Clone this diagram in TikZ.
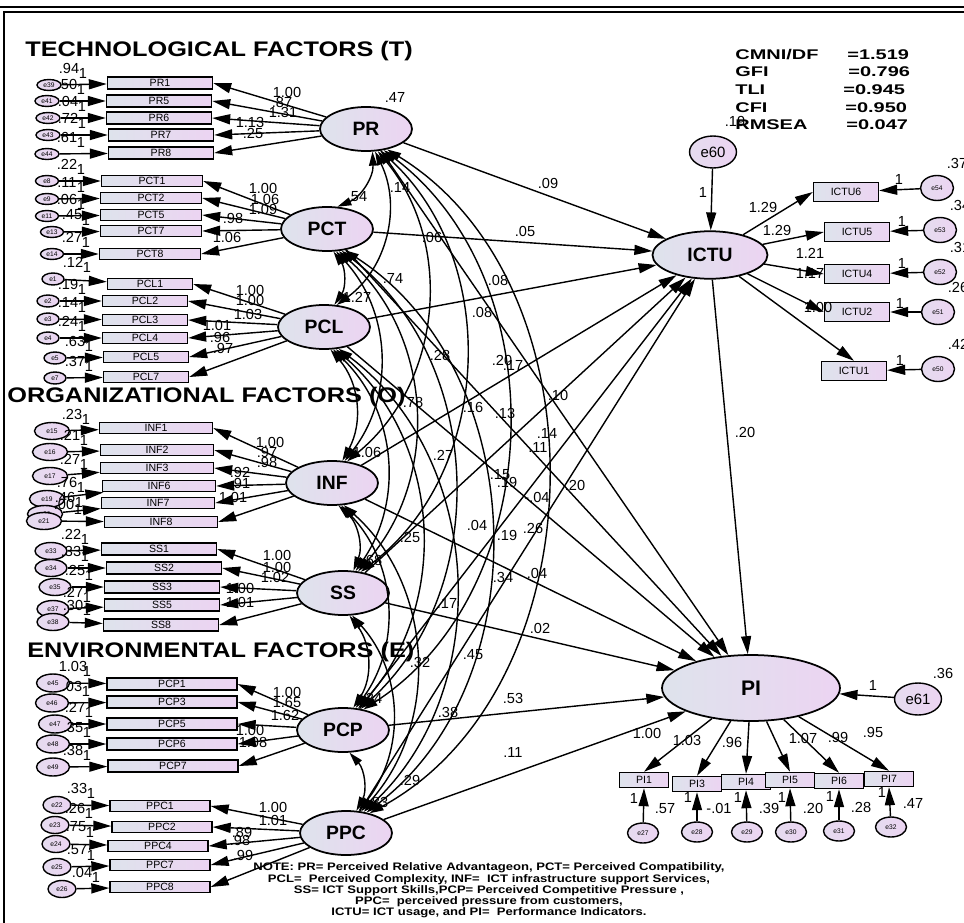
\documentclass[tikz,border=0pt]{standalone}
\usepackage{fontspec}
\setmainfont{Liberation Sans}
\usetikzlibrary{arrows.meta,shapes.geometric}

\definecolor{shadeL}{RGB}{222,227,236}
\definecolor{shadeR}{RGB}{236,212,242}

\newcommand{\stretchtext}[2]{\scalebox{#1}[1]{#2}}

\tikzset{
  lat/.style={ellipse, draw, line width=1pt, left color=shadeL, right color=shadeR,
    minimum width=1.84cm, minimum height=0.88cm, inner sep=0pt, font=\fontsize{11}{12}\selectfont\bfseries},
  ind/.style={rectangle, draw, line width=0.8pt, left color=shadeL, right color=shadeR,
    inner sep=0pt, font=\fontsize{6}{7}\selectfont},
  err/.style={ellipse, draw, line width=0.8pt, left color=shadeL!50!shadeR, right color=shadeR,
    inner sep=0pt, font=\fontsize{3.8}{4}\selectfont},
  num/.style={inner sep=0pt, font=\fontsize{8.3}{9}\selectfont},
  reg/.style={-{Triangle[length=0.36cm,width=0.2cm]}, line width=0.8pt},
  cov/.style={{Triangle[length=0.28cm,width=0.16cm]}-{Triangle[length=0.28cm,width=0.16cm]}, line width=0.8pt},
  ttl/.style={inner sep=0pt, anchor=west, font=\fontsize{12}{13}\selectfont\bfseries},
  fitstat/.style={inner sep=0pt, anchor=west, font=\fontsize{8}{9}\selectfont\bfseries},
}

\begin{document}
\begin{tikzpicture}[x=0.02cm, y=-0.02cm]
\useasboundingbox (0,0) rectangle (964,923);

% frame
\draw[line width=1.4pt] (0,7) -- (964,7);
\draw[line width=1pt] (4,923) -- (4,12) -- (964,12);

% titles
\node[ttl] (techT) at (25,51) {\stretchtext{1.2}{TECHNOLOGICAL FACTORS (T)}};
\node[ttl] (orgT) at (7,397) {\stretchtext{1.2}{ORGANIZATIONAL FACTORS (O)}};
\node[ttl] (envT) at (27,652) {\stretchtext{1.2}{ENVIRONMENTAL FACTORS (E)}};

% fit indices
\node[fitstat] (cmniL) at (735,55) {\stretchtext{1.42}{CMNI/DF}};
\node[fitstat] (cmniV) at (847,55) {\stretchtext{1.42}{=1.519}};
\node[fitstat] (gfiL) at (735,72) {\stretchtext{1.42}{GFI}};
\node[fitstat] (gfiV) at (848,72) {\stretchtext{1.42}{=0.796}};
\node[fitstat] (tliL) at (735,90) {\stretchtext{1.42}{TLI}};
\node[fitstat] (tliV) at (843,90) {\stretchtext{1.42}{=0.945}};
\node[fitstat] (cfiL) at (735,108) {\stretchtext{1.42}{CFI}};
\node[fitstat] (cfiV) at (845,108) {\stretchtext{1.42}{=0.950}};
\node[fitstat] (rmsL) at (735,125) {\stretchtext{1.42}{RMSEA}};
\node[fitstat] (rmsV) at (846,125) {\stretchtext{1.42}{=0.047}};

% latent variables
\node[lat] (PR) at (366,129) {PR};
\node[lat] (PCT) at (327,229) {PCT};
\node[lat] (PCL) at (324,327) {PCL};
\node[lat] (INF) at (332,483) {INF};
\node[lat] (SS) at (343,593) {SS};
\node[lat] (PCP) at (343,730) {PCP};
\node[lat] (PPC) at (346,833) {PPC};
\node[lat, minimum width=2.3cm, minimum height=0.95cm] (ICTU) at (710,255) {ICTU};
\node[lat, minimum width=3.56cm, minimum height=1.32cm, font=\fontsize{12}{13}\selectfont\bfseries] (PI) at (751,688) {PI};

\node[num] (vPR) at (395,97) {.47};
\node[num] (vPCT) at (357,197) {.54};
\node[num] (vPCL) at (357,297) {1.27};
\node[num] (vINF) at (367,452) {1.06};
\node[num] (vSS) at (372,560) {.68};
\node[num] (vPCP) at (372,698) {.24};
\node[num] (vPPC) at (378,802) {.83};

% PR items
\foreach \n/\bx/\by/\e/\ex/\ey/\ld/\lx/\ly/\va in {PR1/160/83/e39/49/85/1.00/287/92/.94, PR5/159/101/e41/47/101/.87/282/102/.50,
  PR6/159/118/e42/48/118/1.31/283/112/.04, PR7/161/135/e43/48/135/1.13/250/122/.72, PR8/161/153/e44/47/154/.25/253/133/.61}{
  \node[ind, minimum width=2.1cm, minimum height=0.24cm] (\n) at (\bx,\by) {\n};
  \node[err, minimum width=0.48cm, minimum height=0.22cm] (\e) at (\ex,\ey) {\e};
  \draw[reg] (\e) -- (\n);
  \draw[reg] (PR) -- (\n.east);
  \node[num] (ld\n) at (\lx,\ly) {\ld};
  \node[num] (v\e) at (\ex+20,\ey-17) {\va};
  \node[num] (one\e) at (\ex+34,\ey-12) {1};
}

% PCT items
\foreach \n/\bx/\by/\e/\ex/\ey/\ld/\lx/\ly/\va in {PCT1/152/181/e8/47/181/1.00/263/188/.22, PCT2/151/198/e9/47/199/1.06/265/199/.11,
  PCT5/151/215/e11/47/216/1.09/263/209/.06, PCT7/151/231/e13/52/232/.98/233/218/.45, PCT8/150/254/e14/52/254/1.06/227/237/.27}{
  \node[ind, minimum width=2.02cm, minimum height=0.23cm] (\n) at (\bx,\by) {\n};
  \node[err, minimum width=0.46cm, minimum height=0.22cm] (\e) at (\ex,\ey) {\e};
  \draw[reg] (\e) -- (\n);
  \draw[reg] (PCT) -- (\n.east);
  \node[num] (ld\n) at (\lx,\ly) {\ld};
  \node[num] (v\e) at (\ex+20,\ey-17) {\va};
  \node[num] (one\e) at (\ex+34,\ey-12) {1};
}

% PCL items
\foreach \n/\bx/\by/\e/\ex/\ey/\ld/\lx/\ly/\va in {PCL1/150/284/e1/53/279/1.00/250/290/.12, PCL2/145/301/e2/48/301/1.00/250/300/.19,
  PCL3/145/320/e3/48/319/1.03/248/314/.14, PCL4/145/338/e4/48/338/1.01/217/325/.24, PCL5/146/357/e5/55/358/.96/220/337/.63,
  PCL7/146/377/e7/55/378/.97/223/348/.37}{
  \node[ind, minimum width=1.7cm, minimum height=0.23cm] (\n) at (\bx,\by) {\n};
  \node[err, minimum width=0.44cm, minimum height=0.24cm] (\e) at (\ex,\ey) {\e};
  \draw[reg] (\e) -- (\n);
  \draw[reg] (PCL) -- (\n.east);
  \node[num] (ld\n) at (\lx,\ly) {\ld};
  \node[num] (v\e) at (\ex+20,\ey-17) {\va};
  \node[num] (one\e) at (\ex+34,\ey-12) {1};
}

% INF items
\foreach \n/\bx/\by/\e/\ex/\ey/\ld/\lx/\ly/\va in {INF1/156/428/e15/52/431/1.00/270/442/.23, INF2/157/450/e16/50/452/.97/267/452/.21,
  INF3/157/468/e17/50/476/.98/267/462/.27, INF6/159/486/e19/47/499/.92/240/472/.76, INF7/158/503/e20/45/514/.91/240/483/.46,
  INF8/161/522/e21/44/521/1.01/233/497/.00}{
  \node[ind, minimum width=2.26cm, minimum height=0.23cm] (\n) at (\bx,\by) {\n};
  \node[err, minimum width=0.7cm, minimum height=0.34cm] (\e) at (\ex,\ey) {\e};
  \draw[reg] (\e) -- (\n);
  \draw[reg] (INF) -- (\n.east);
  \node[num] (ld\n) at (\lx,\ly) {\ld};
  \node[num] (v\e) at (\ex+20,\ey-17) {\va};
  \node[num] (one\e) at (\ex+34,\ey-12) {1};
}

% SS items
\foreach \n/\bx/\by/\e/\ex/\ey/\ld/\lx/\ly/\va in {SS1/159/549/e33/51/551/1.00/277/555/.22, SS2/164/568/e34/51/568/1.00/277/567/.33,
  SS3/162/587/e35/55/587/1.02/275/577/.25, SS5/162/605/e37/53/609/1.00/240/588/.27, SS8/161/625/e38/53/622/1.01/240/602/.30}{
  \node[ind, minimum width=2.3cm, minimum height=0.24cm] (\n) at (\bx,\by) {\n};
  \node[err, minimum width=0.64cm, minimum height=0.34cm] (\e) at (\ex,\ey) {\e};
  \draw[reg] (\e) -- (\n);
  \draw[reg] (SS) -- (\n.east);
  \node[num] (ld\n) at (\lx,\ly) {\ld};
  \node[num] (v\e) at (\ex+20,\ey-17) {\va};
  \node[num] (one\e) at (\ex+34,\ey-12) {1};
}

% PCP items
\foreach \n/\bx/\by/\e/\ex/\ey/\ld/\lx/\ly/\va in {PCP1/172/684/e45/53/683/1.00/287/692/1.03, PCP3/172/702/e46/52/703/1.65/287/702/.03,
  PCP5/172/724/e47/55/724/1.62/285/715/.27, PCP6/172/744/e48/53/744/1.00/250/730/.35, PCP7/173/766/e49/53/767/1.08/253/742/.38}{
  \node[ind, minimum width=2.6cm, minimum height=0.24cm] (\n) at (\bx,\by) {\n};
  \node[err, minimum width=0.66cm, minimum height=0.36cm] (\e) at (\ex,\ey) {\e};
  \draw[reg] (\e) -- (\n);
  \draw[reg] (PCP) -- (\n.east);
  \node[num] (ld\n) at (\lx,\ly) {\ld};
  \node[num] (v\e) at (\ex+20,\ey-17) {\va};
  \node[num] (one\e) at (\ex+34,\ey-12) {1};
}

% PPC items
\foreach \n/\bx/\by/\e/\ex/\ey/\ld/\lx/\ly/\va in {PPC1/160/806/e22/57/805/1.00/273/807/.33, PPC2/162/827/e23/55/825/1.01/273/820/.26,
  PPC4/158/846/e24/56/844/.89/242/832/.75, PPC7/160/865/e25/57/867/.98/240/840/.57, PPC8/160/887/e26/62/889/.99/243/855/.04}{
  \node[ind, minimum width=2.0cm, minimum height=0.23cm] (\n) at (\bx,\by) {\n};
  \node[err, minimum width=0.56cm, minimum height=0.34cm] (\e) at (\ex,\ey) {\e};
  \draw[reg] (\e) -- (\n);
  \draw[reg] (PPC) -- (\n.east);
  \node[num] (ld\n) at (\lx,\ly) {\ld};
  \node[num] (v\e) at (\ex+20,\ey-17) {\va};
  \node[num] (one\e) at (\ex+34,\ey-12) {1};
}

% ICTU items
\foreach \n/\an/\bx/\by/\e/\ex/\ey/\ld/\lx/\ly/\va in {ICTU6/west/846/192/e54/937/188/1.29/763/207/.37,
  ICTU5/west/857/232/e53/940/230/1.29/777/230/.34, ICTU4/west/857/274/e52/940/272/1.21/810/253/.31,
  ICTU2/west/857/312/e51/938/312/1.17/810/273/.26, ICTU1/north/854/371/e50/938/369/1.00/818/307/.42}{
  \node[ind, minimum width=1.3cm, minimum height=0.38cm] (\n) at (\bx,\by) {\n};
  \node[err, minimum width=0.66cm, minimum height=0.5cm] (\e) at (\ex,\ey) {\e};
  \draw[reg] (\e) -- (\n);
  \draw[reg] (ICTU) -- (\n.\an);
  \node[num] (ld\n) at (\lx,\ly) {\ld};
  \node[num] (v\e) at (\ex+20,\ey-25) {\va};
  \node[num] (one\e) at (\ex-38,\ey-9) {1};
}

% PI items
\foreach \n/\bx/\by/\e/\ex/\ey/\ld/\lx/\ly/\va in {PI1/644/780/e27/643/833/1.00/647/733/.57, PI3/697/784/e28/697/832/1.03/687/740/-.01,
  PI4/746/782/e29/747/832/.96/732/742/.39, PI5/790/780/e30/791/832/1.07/803/738/.20, PI6/839/781/e31/839/831/.99/838/737/.28,
  PI7/889/779/e32/891/827/.95/873/732/.47}{
  \node[ind, minimum width=0.98cm, minimum height=0.3cm] (\n) at (\bx,\by) {\n};
  \node[err, minimum width=0.62cm, minimum height=0.4cm] (\e) at (\ex,\ey) {\e};
  \draw[reg] (\e) -- (\n.south);
  \draw[reg] (PI) -- (\n.north);
  \node[num] (ld\n) at (\lx,\ly) {\ld};
  \node[num] (v\e) at (\ex+22,\ey-24) {\va};
  \node[num] (one\e) at (\ex-9,\ey-35) {1};
}

% disturbances
\node[err, minimum width=0.94cm, minimum height=0.64cm, font=\fontsize{8.5}{9}\selectfont] (e60) at (713,152) {e60};
\draw[reg] (e60) -- (ICTU);
\node[num] (onee60) at (703,192) {1};
\node[num] (ve60) at (735,121) {.19};
\node[err, minimum width=0.94cm, minimum height=0.64cm, font=\fontsize{8.5}{9}\selectfont] (e61) at (918,699) {e61};
\draw[reg] (e61) -- (PI);
\node[num] (onee61) at (873,685) {1};
\node[num] (ve61) at (943,673) {.36};

% structural paths
\draw[reg] (ICTU) -- (PI);
\node[num] (bICTU) at (745,432) {.20};
\foreach \a/\tx/\lx/\ly in {PR/.09/548/183, PCT/.05/525/231, PCL/.08/498/280, INF/.16/473/407,
  SS/.13/505/413, PCP/.14/547/433, PPC/.20/575/485}{
  \draw[reg] (\a) -- (ICTU);
  \node[num] (b\a) at (\lx,\ly) {\tx};
}
\foreach \a/\tx/\lx/\ly in {PR/.06/432/237, PCT/.28/440/355, PCL/.27/443/455, INF/.04/477/525,
  SS/.02/540/628, PCP/.53/513/698, PPC/.11/513/752}{
  \draw[reg] (\a) -- (PI);
  \node[num] (g\a) at (\lx,\ly) {\tx};
}

% covariances
\foreach \a/\b/\dd [evaluate=\dd as \ua using int(-80+6*\dd), evaluate=\dd as \la using int(70-5*\dd),
    evaluate=\dd as \bd using int(30+5*\dd)] in {PR/PCT/1, PR/PCL/2, PR/INF/3, PR/SS/4, PR/PCP/5, PR/PPC/6,
    PCT/PCL/1, PCT/INF/2, PCT/SS/3, PCT/PCP/4, PCT/PPC/5, PCL/INF/1, PCL/SS/2, PCL/PCP/3, PCL/PPC/4,
    INF/SS/1, INF/PCP/2, INF/PPC/3, SS/PCP/1, SS/PPC/2, PCP/PPC/1}{
  \draw[cov] (\a.\ua) to[bend left=\bd] (\b.\la);
}
\foreach \lx/\ly/\tx [count=\i] in {400/187/.14, 393/278/.74, 482/312/.08, 502/360/.20, 513/365/.17, 413/402/.78,
  558/395/.10, 538/447/.11, 500/475/.15, 507/482/.19, 537/497/-.04, 507/535/.19, 533/528/.26, 410/537/.25,
  503/577/.34, 537/573/.04, 447/603/.17, 473/655/.45, 420/662/.32, 448/712/.38, 410/780/.29}{
  \node[num] (cv\i) at (\lx,\ly) {\tx};
}

% note
\node[inner sep=0pt, font=\fontsize{6.2}{6.4}\selectfont\bfseries] (note) at (489,891) {\stretchtext{1.2}{\begin{tabular}{@{}c@{}}
NOTE: PR= Perceived Relative Advantageon, PCT= Perceived Compatibility,\\
PCL=\ \ Perceived Complexity, INF=\ \ ICT infrastructure support Services,\\
SS= ICT Support Skills,PCP= Perceived Competitive Pressure ,\\
PPC=\ \ perceived pressure from customers,\\
ICTU= ICT usage, and PI=\ \ Performance Indicators.
\end{tabular}}};
\end{tikzpicture}
\end{document}
